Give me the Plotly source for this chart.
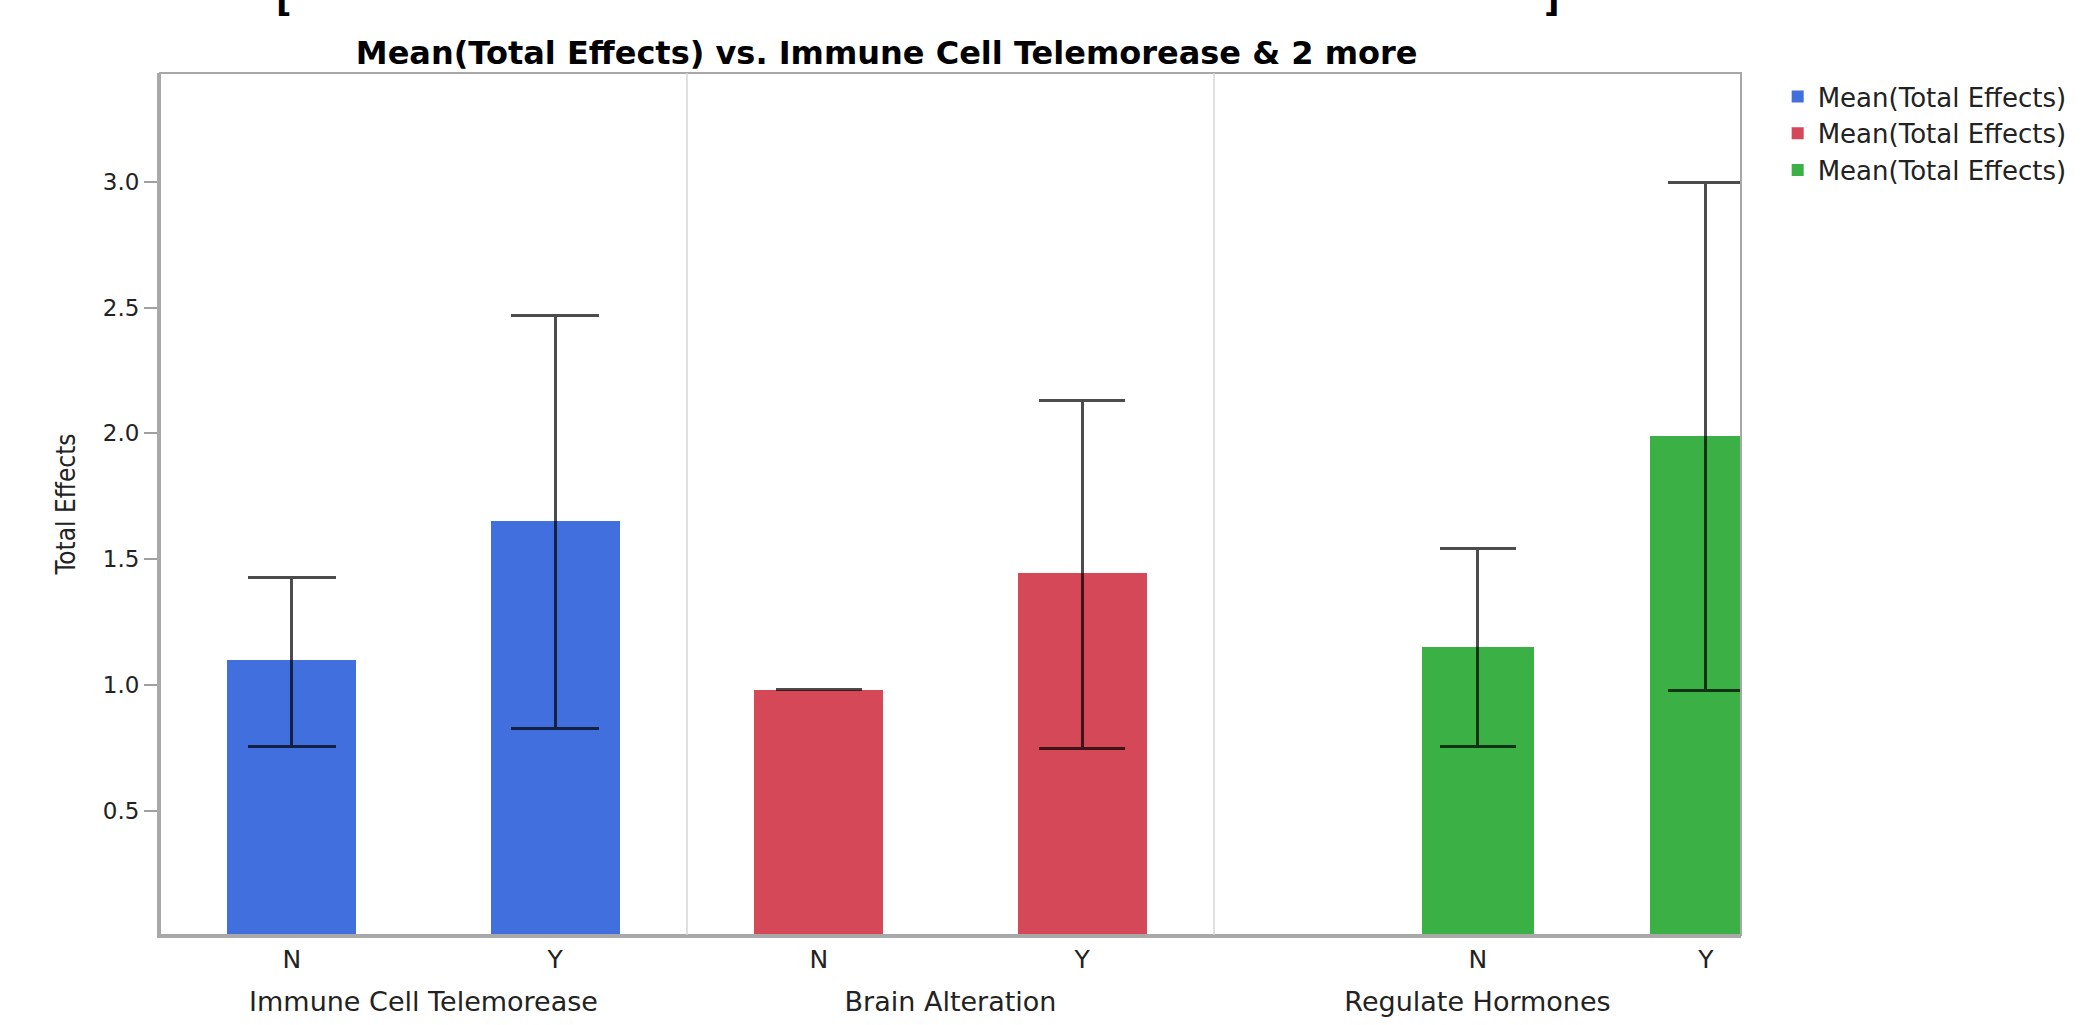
import plotly.graph_objects as go

# ---------------- data ----------------
groups = ["Immune Cell Telemorease", "Brain Alteration", "Regulate Hormones"]
levels = ["N", "Y"]
level_pos = [0, 1]

immune_mean = [1.098, 1.652]
immune_upper = [1.427, 2.469]
immune_lower = [0.754, 0.828]

brain_mean = [0.980, 1.444]
brain_upper = [0.980, 2.130]
brain_lower = [0.980, 0.746]

hormone_mean = [1.152, 1.991]
hormone_upper = [1.541, 2.995]
hormone_lower = [0.755, 0.977]

series_name = "Mean(Total Effects)"
colors = ["#4170DE", "#D44858", "#3BB045"]
y_ticks = [0.5, 1.0, 1.5, 2.0, 2.5, 3.0]
y_tick_text = ["0.5", "1.0", "1.5", "2.0", "2.5", "3.0"]

# ---------------- figure ----------------
means = [immune_mean, brain_mean, hormone_mean]
uppers = [immune_upper, brain_upper, hormone_upper]
lowers = [immune_lower, brain_lower, hormone_lower]
xaxes = ["x", "x2", "x3"]
cap_widths = [44, 43, 38]

fig = go.Figure()
for i in range(3):
    m, u, l = means[i], uppers[i], lowers[i]
    fig.add_trace(go.Bar(
        x=level_pos, y=m, width=0.49,
        name=series_name,
        marker=dict(color=colors[i], line=dict(width=0)),
        error_y=dict(type="data", symmetric=False,
                     array=[u[k] - m[k] for k in range(2)],
                     arrayminus=[m[k] - l[k] for k in range(2)],
                     color="rgba(0,0,0,0.7)", thickness=3, width=cap_widths[i]),
        xaxis=xaxes[i], yaxis="y",
    ))

tick_font = dict(family="DejaVu Sans", size=23, color="#222222")
xtick_font = dict(family="DejaVu Sans", size=25, color="#222222")
axis_line = "#A9A9A9"

def xa(domain, rng, title):
    return dict(domain=domain, anchor="y", range=rng, tickvals=level_pos, ticktext=levels,
                showline=True, linecolor=axis_line, linewidth=3, ticks="", showgrid=False,
                zeroline=False, tickfont=xtick_font, fixedrange=True,
                title=dict(text=title, font=dict(family="DejaVu Sans", size=27, color="#222222"),
                           standoff=20))

fig.update_layout(
    width=2084, height=1025,
    margin=dict(l=160, r=342, t=73, b=77),
    paper_bgcolor="white", plot_bgcolor="white",
    showlegend=True,
    title=dict(text="<b>Mean(Total Effects) vs. Immune Cell Telemorease &amp; 2 more</b>",
               font=dict(family="DejaVu Sans", size=32, color="#000000"),
               x=0.4596, xref="paper", xanchor="center", y=1 - 53 / 1025, yanchor="middle"),
    xaxis=xa([0, 1 / 3], [-0.5, 1.5], groups[0]),
    xaxis2=xa([1 / 3, 2 / 3], [-0.5, 1.5], groups[1]),
    xaxis3=xa([2 / 3, 1], [-1.158, 1.154], groups[2]),
    yaxis=dict(domain=[0, 1], anchor="x", range=[0.006, 3.432],
               tickvals=y_ticks, ticktext=y_tick_text, tickfont=tick_font,
               ticks="outside", ticklen=13, tickwidth=2, tickcolor="#A0A0A0",
               showline=True, linecolor=axis_line, linewidth=3,
               showgrid=False, zeroline=False,
               title=dict(text="Total Effects",
                          font=dict(family="Liberation Sans Narrow, DejaVu Sans Condensed, sans-serif",
                                    size=26, color="#222222"),
                          standoff=20)),
    legend=dict(x=1.0232, y=1.0, xanchor="left", yanchor="top",
                font=dict(family="DejaVu Sans", size=26, color="#222222"),
                bgcolor="rgba(0,0,0,0)", itemwidth=30, tracegroupgap=0),
    bargap=0,
)

# plot frame and panel dividers
fig.add_shape(type="rect", xref="paper", yref="paper", x0=0, x1=1, y0=0, y1=1,
              line=dict(color="#A8A8A8", width=2), layer="above")
for ax in ["x2", "x3"]:
    fig.add_shape(type="line", xref=f"{ax} domain", yref="y domain", x0=0, x1=0, y0=0, y1=1,
                  line=dict(color="#D6D6D6", width=1.5), layer="above")

# bracket fragments cut off at the top of the image
fig.add_annotation(text="<b>[</b>", xref="paper", yref="paper", x=0.0784, y=1.0594,
                   xanchor="center", yanchor="bottom", showarrow=False,
                   font=dict(family="DejaVu Sans", size=34, color="#000000"))
fig.add_annotation(text="<b>]</b>", xref="paper", yref="paper", x=0.8805, y=1.0594,
                   xanchor="center", yanchor="bottom", showarrow=False,
                   font=dict(family="DejaVu Sans", size=34, color="#000000"))

fig.write_html("out.html", config={"displayModeBar": False},
               post_script="document.body.style.margin='0';document.body.style.overflow='hidden';")
